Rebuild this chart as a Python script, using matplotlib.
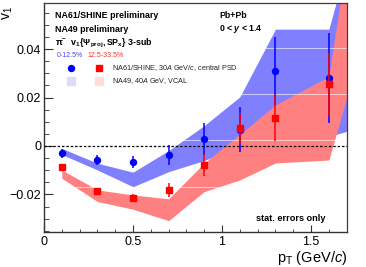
import matplotlib
matplotlib.use("Agg")
import matplotlib.pyplot as plt
from matplotlib.ticker import MultipleLocator, FuncFormatter

plt.rcParams['font.family'] = ['Liberation Sans', 'DejaVu Sans']
plt.rcParams['mathtext.fontset'] = 'custom'
plt.rcParams['mathtext.rm'] = 'Liberation Sans'
plt.rcParams['mathtext.it'] = 'Liberation Sans:italic'
plt.rcParams['mathtext.bf'] = 'Liberation Sans:bold'
plt.rcParams['mathtext.bfit'] = 'Liberation Sans:italic:bold'

# NA61/SHINE points (pi-, 30A GeV/c, central PSD)
pt = [0.1, 0.3, 0.5, 0.7, 0.9, 1.1, 1.3, 1.6]
v1_c1 = [-0.0030, -0.0059, -0.0066, -0.0037, 0.0029, 0.0068, 0.0309, 0.0281]
err_c1 = [0.0019, 0.0020, 0.0023, 0.0040, 0.0065, 0.0092, 0.0140, 0.0187]
v1_c2 = [-0.0088, -0.0184, -0.0213, -0.0181, -0.0080, 0.0073, 0.0117, 0.0254]
err_c2 = [0.0011, 0.0010, 0.0016, 0.0028, 0.0045, 0.0064, 0.0098, 0.0130]

# NA49 bands (40A GeV, VCAL)
pt_na49 = [0.1, 0.3, 0.5, 0.7, 0.9, 1.1, 1.3, 1.6, 1.7]
na49_c1_hi = [-0.0010, -0.0071, -0.0108, -0.0019, 0.0084, 0.0203, 0.0482, 0.0482, 0.075]
na49_c1_lo = [-0.0035, -0.0099, -0.0168, -0.0106, -0.0060, 0.0000, 0.0080, 0.0040, 0.0060]
na49_c2_hi = [-0.0099, -0.0181, -0.0202, -0.0218, -0.0070, 0.0048, 0.0170, 0.0286, 0.077]
na49_c2_lo = [-0.0133, -0.0229, -0.0261, -0.0308, -0.0188, -0.0140, -0.0070, -0.0058, 0.0200]

BLUE = '#0000ff'
RED = '#ff0000'
BAND_BLUE = '#8080ff'
BAND_RED = '#ff8080'

fig = plt.figure(figsize=(3.66, 2.67), dpi=100)
ax = fig.add_axes([0.1202, 0.131, 0.828, 0.8578])

ax.fill_between(pt_na49, na49_c1_lo, na49_c1_hi, color=BAND_BLUE, lw=0, zorder=1)
ax.fill_between(pt_na49, na49_c2_lo, na49_c2_hi, color=BAND_RED, lw=0, zorder=1.1)

# faint white lines seen across the bands
for yl in [0.0404, 0.0214, 0.0025, -0.0169]:
    ax.axhline(yl, color='white', lw=0.6, alpha=0.7, zorder=1.5)

ax.axhline(0, color='black', ls=(0, (2, 1.5)), lw=0.9, zorder=3)

ax.errorbar(pt, v1_c1, yerr=err_c1, fmt='o', color=BLUE, ms=4.3, elinewidth=1.1,
            capsize=0, zorder=4)
ax.errorbar(pt, v1_c2, yerr=err_c2, fmt='s', color=RED, ms=4.0, elinewidth=1.1,
            capsize=0, zorder=5)

ax.set_xlim(0, 1.702)
ax.set_ylim(-0.0355, 0.0590)

ax.xaxis.set_major_locator(MultipleLocator(0.5))
ax.xaxis.set_minor_locator(MultipleLocator(0.1))
ax.yaxis.set_major_locator(MultipleLocator(0.02))
ax.yaxis.set_minor_locator(MultipleLocator(0.005))


def fmt(v, pos):
    if abs(v) < 1e-9:
        return '0'
    return ('%g' % v).replace('-', '\u2212')


ax.xaxis.set_major_formatter(FuncFormatter(fmt))
ax.yaxis.set_major_formatter(FuncFormatter(fmt))

ax.tick_params(axis='both', which='both', direction='in', top=False, right=False,
               labelsize=9, color='#333333')
ax.tick_params(axis='x', which='major', length=4.8, pad=3)
ax.tick_params(axis='x', which='minor', length=2.2)
ax.tick_params(axis='y', which='major', length=6.5, pad=2)
ax.tick_params(axis='y', which='minor', length=3.4)

for s in ['left', 'bottom']:
    ax.spines[s].set_color('#333333')
    ax.spines[s].set_linewidth(1.0)
for s in ['top', 'right']:
    ax.spines[s].set_color('#5a3030')
    ax.spines[s].set_linewidth(0.9)

ax.set_xlabel(r'p$_{\mathrm{T}}$ (GeV/$c$)', fontsize=10.5, loc='right')
ax.xaxis.set_label_coords(1.0, -0.075)
ax.set_ylabel(r'v$_{1}$', fontsize=10, loc='top')
ax.yaxis.set_label_coords(-0.097, 0.985)

# annotations
tx = ax.transAxes
ax.text(0.036, 0.945, 'NA61/SHINE preliminary', transform=tx, fontsize=6.4,
        fontweight='bold', va='center')
ax.text(0.036, 0.886, 'NA49 preliminary', transform=tx, fontsize=6.4,
        fontweight='bold', va='center')
ax.text(0.036, 0.825,
        r'$\mathbf{\pi^{-}}$  $\mathbf{v_{1}\{\Psi_{proj},SP_{x}\}}$ 3-sub',
        transform=tx, fontsize=6.4, fontweight='bold', va='center')
ax.text(0.043, 0.769, '0-12.5%', transform=tx, fontsize=5, color='#4444ff',
        va='center')
ax.text(0.142, 0.769, '12.5-33.5%', transform=tx, fontsize=5, color='#ff3333',
        va='center')

ax.plot([0.089], [0.716], 'o', color=BLUE, ms=4.3, transform=tx, clip_on=False)
ax.plot([0.1815], [0.716], 's', color=RED, ms=4.0, transform=tx, clip_on=False)
ax.text(0.224, 0.716, r'NA61/SHINE, 30$A$ GeV/$c$, central PSD', transform=tx,
        fontsize=5.2, color='#222222', va='center')
ax.plot([0.089], [0.659], 's', color='#dcdcff', ms=6, transform=tx, clip_on=False)
ax.plot([0.1815], [0.659], 's', color='#ffdcdc', ms=6, transform=tx, clip_on=False)
ax.text(0.224, 0.659, r'NA49, 40$A$ GeV, VCAL', transform=tx,
        fontsize=5.2, color='#222222', va='center')

ax.text(0.578, 0.945, 'Pb+Pb', transform=tx, fontsize=6.3, fontweight='bold',
        va='center')
ax.text(0.578, 0.886, r'0 < $\mathbfit{y}$ < 1.4', transform=tx, fontsize=6.3,
        fontweight='bold', va='center')
ax.text(0.70, 0.061, 'stat. errors only', transform=tx, fontsize=6.6,
        fontweight='bold', va='center')

fig.savefig('out.png', dpi=100)
